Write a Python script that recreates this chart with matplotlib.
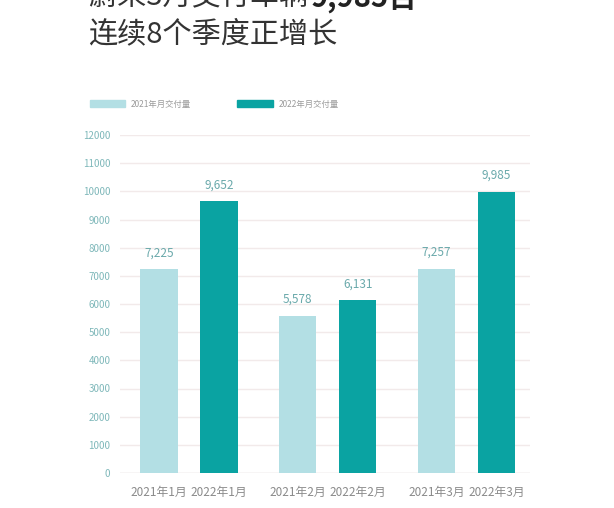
import matplotlib
matplotlib.use("Agg")
import matplotlib.pyplot as plt
from matplotlib.patches import Patch

plt.rcParams['font.family'] = ['Noto Sans CJK SC', 'DejaVu Sans']

months = ['1月', '2月', '3月']
series_names = ['2021年月交付量', '2022年月交付量']
years = ['2021年', '2022年']
values_2021 = [7225, 5578, 7257]
values_2022 = [9652, 6131, 9985]
yticks = list(range(0, 12001, 1000))

c_light = '#b3dfe4'
c_dark = '#0aa3a2'

fig = plt.figure(figsize=(6.14, 5.08), dpi=100)
ax = fig.add_axes([120/614, 1-473/508, 410/614, (473-135)/508])

gap = 2.31
w = 0.62
positions, labels = [], []
for g, m in enumerate(months):
    x0 = g * gap
    for s, (vals, col) in enumerate([(values_2021, c_light), (values_2022, c_dark)]):
        x = x0 + s
        v = vals[g]
        ax.bar(x, v, width=w, color=col, zorder=3)
        ax.text(x, v + 350, f"{v:,}", ha='center', va='bottom', fontsize=8.5, color='#6aa9ab')
        positions.append(x)
        labels.append(years[s] + m)

ax.set_xlim(-0.65, 6.18)
ax.set_ylim(0, 12000)
ax.set_yticks(yticks)
ax.set_yticklabels([str(t) for t in yticks], fontsize=7, color='#7fb8ba')
ax.set_xticks(positions)
ax.set_xticklabels(labels, fontsize=8.5, color='#8a8a8a')
ax.tick_params(axis='both', length=0, pad=7)
ax.tick_params(axis='x', pad=9)
ax.grid(axis='y', color='#f2eaea', linewidth=1, zorder=0)
for sp in ax.spines.values():
    sp.set_visible(False)
ax.axhline(0, color='#e4e4e4', linewidth=1, zorder=2)

handles = [Patch(color=c_light), Patch(color=c_dark)]
fig.legend(handles, series_names, loc='upper left', bbox_to_anchor=(82/614, 1-92/508),
           ncol=2, frameon=False, fontsize=6, labelcolor='#9a9a9a',
           handlelength=4.3, handleheight=0.9, columnspacing=5.5, handletextpad=0.7)

t1 = fig.text(88/614, 1+3/508, '蔚来3月交付车辆', fontsize=21, color='#333333',
              ha='left', va='center', fontweight='light')
fig.canvas.draw()
fig.text(0, 0, '9,985台', fontsize=21, color='#222222', fontweight='bold',
         ha='left', va='center',
         transform=matplotlib.transforms.offset_copy(fig.transFigure, fig=fig, x=0, y=0))
bb = t1.get_window_extent()
fig.texts[-1].set_position((bb.x1 / fig.bbox.width + 3/614, 1+3/508))
fig.text(88/614, 1-34/508, '连续8个季度正增长', fontsize=21, color='#333333',
         ha='left', va='center', fontweight='light')

fig.savefig('out.png', dpi=100, facecolor='white')
